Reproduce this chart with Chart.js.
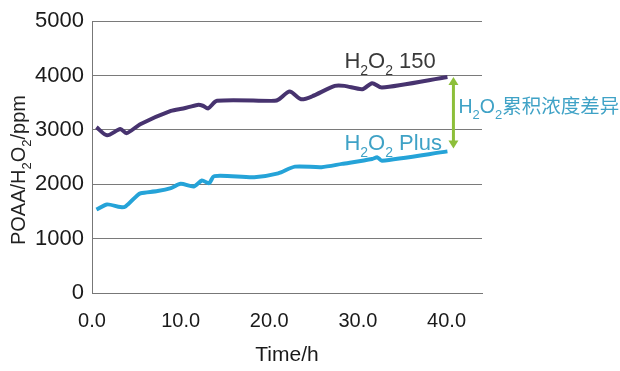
<!DOCTYPE html>
<html>
<head>
<meta charset="utf-8">
<script src="https://cdn.jsdelivr.net/npm/chart.js@4"></script>
<style>
  html, body { margin: 0; padding: 0; background: #fff; }
  #wrap { width: 620px; height: 371px; }
</style>
</head>
<body>
<div id="wrap"><canvas id="poaaChart" width="620" height="371"></canvas></div>
<script>
// values
const time150 = [0.5, 1.7, 3.2, 3.9, 5.5, 8.9, 10.3, 11.9, 12.5, 13.1, 14.1, 20.6, 21.1, 22.3, 23.6, 24.8, 27.4, 28.5, 30.5, 31.6, 32.7, 40.1];
const h2o2_150 = [3050, 2900, 3015, 2940, 3110, 3350, 3395, 3460, 3445, 3395, 3535, 3535, 3565, 3705, 3565, 3615, 3810, 3810, 3750, 3860, 3780, 3975];

const timePlus = [0.5, 1.7, 3.2, 3.8, 5.1, 5.5, 7.4, 8.9, 10.0, 11.5, 12.4, 13.2, 13.8, 18.3, 21.0, 22.9, 25.9, 28.2, 31.6, 32.2, 32.7, 40.1];
const h2o2_plus = [1535, 1630, 1580, 1595, 1795, 1835, 1875, 1930, 2010, 1960, 2070, 2020, 2150, 2130, 2200, 2325, 2315, 2375, 2465, 2495, 2435, 2605];

const FONT = '"Liberation Sans", Arial, "Noto Sans CJK SC", sans-serif';
const PURPLE = '#47336f';
const BLUE = '#25a3d8';
const GREEN = '#8dbf3a';

function pts(xs, ys) {
  return xs.map((x, i) => ({ x: x, y: ys[i] }));
}

// draw text made of pieces, some of them subscript
function drawRich(ctx, parts, x, y, size, color, align) {
  const sub = Math.round(size * 0.65);
  let total = 0;
  parts.forEach(p => {
    ctx.font = (p[1] ? sub : size) + 'px ' + FONT;
    total += ctx.measureText(p[0]).width;
  });
  let cx = align === 'center' ? x - total / 2 : x;
  ctx.fillStyle = color;
  ctx.textAlign = 'left';
  ctx.textBaseline = 'alphabetic';
  parts.forEach(p => {
    ctx.font = (p[1] ? sub : size) + 'px ' + FONT;
    ctx.fillText(p[0], cx, p[1] ? y + size * 0.3 : y);
    cx += ctx.measureText(p[0]).width;
  });
}

const notes = {
  id: 'notes',
  afterDatasetsDraw(chart) {
    const ctx = chart.ctx;
    const xs = chart.scales.x, ys = chart.scales.y;
    const last = time150.length - 1;
    const ex = xs.getPixelForValue(time150[last]);
    const topY = ys.getPixelForValue(h2o2_150[last]);
    const botY = ys.getPixelForValue(h2o2_plus[h2o2_plus.length - 1]);
    ctx.save();

    // series labels
    drawRich(ctx, [['H', 0], ['2', 1], ['O', 0], ['2', 1], [' 150', 0]], ex - 103, topY - 9, 22, '#3a3a3a');
    drawRich(ctx, [['H', 0], ['2', 1], ['O', 0], ['2', 1], [' Plus', 0]], ex - 103, botY - 1, 22, '#3fa2c6');

    // double arrow between the end values
    const ax = ex + 6;
    ctx.strokeStyle = GREEN;
    ctx.fillStyle = GREEN;
    ctx.lineWidth = 3;
    ctx.beginPath();
    ctx.moveTo(ax, topY + 5);
    ctx.lineTo(ax, botY - 8);
    ctx.stroke();
    ctx.beginPath();
    ctx.moveTo(ax, topY);
    ctx.lineTo(ax - 5, topY + 8);
    ctx.lineTo(ax + 5, topY + 8);
    ctx.closePath();
    ctx.fill();
    ctx.beginPath();
    ctx.moveTo(ax, botY - 3);
    ctx.lineTo(ax - 5, botY - 11);
    ctx.lineTo(ax + 5, botY - 11);
    ctx.closePath();
    ctx.fill();

    drawRich(ctx, [['H', 0], ['2', 1], ['O', 0], ['2', 1], ['累积浓度差异', 0]], ax + 5, (topY + botY) / 2 - 1, 19.5, '#3fa2c6');

    // y axis title with subscripts
    ctx.translate(25, 170);
    ctx.rotate(-Math.PI / 2);
    drawRich(ctx, [['POAA/H', 0], ['2', 1], ['O', 0], ['2', 1], ['/ppm', 0]], 0, 0, 20, '#222', 'center');
    ctx.restore();
  }
};

new Chart(document.getElementById('poaaChart'), {
  type: 'scatter',
  data: {
    datasets: [
      {
        label: 'H2O2 150',
        data: pts(time150, h2o2_150),
        showLine: true,
        borderColor: PURPLE,
        borderWidth: 4,
        pointRadius: 0,
        tension: 0.25
      },
      {
        label: 'H2O2 Plus',
        data: pts(timePlus, h2o2_plus),
        showLine: true,
        borderColor: BLUE,
        borderWidth: 4,
        pointRadius: 0,
        tension: 0.25
      }
    ]
  },
  options: {
    responsive: false,
    animation: false,
    layout: { padding: { top: 20, right: 138, left: 0, bottom: 0 } },
    plugins: {
      legend: { display: false },
      tooltip: { enabled: false }
    },
    scales: {
      x: {
        type: 'linear',
        min: 0,
        max: 44,
        afterFit: s => { s.height = 78; },
        grid: { display: false, drawTicks: false },
        border: { display: true, color: '#777', width: 1 },
        ticks: {
          stepSize: 10,
          includeBounds: false,
          padding: 16,
          color: '#1a1a1a',
          font: { family: FONT, size: 20 },
          callback: v => v.toFixed(1)
        },
        title: {
          display: true,
          text: 'Time/h',
          color: '#1a1a1a',
          font: { family: FONT, size: 21 },
          padding: { top: 0, bottom: 3 }
        }
      },
      y: {
        min: 0,
        max: 5000,
        afterFit: s => { s.width = 92; },
        grid: { color: '#7a7a7a', lineWidth: 1, drawTicks: false },
        border: { display: true, color: '#777', width: 1 },
        ticks: {
          stepSize: 1000,
          padding: 8,
          color: '#1a1a1a',
          font: { family: FONT, size: 22 },
          callback: v => String(v)
        }
      }
    }
  },
  plugins: [notes]
});
</script>
</body>
</html>
